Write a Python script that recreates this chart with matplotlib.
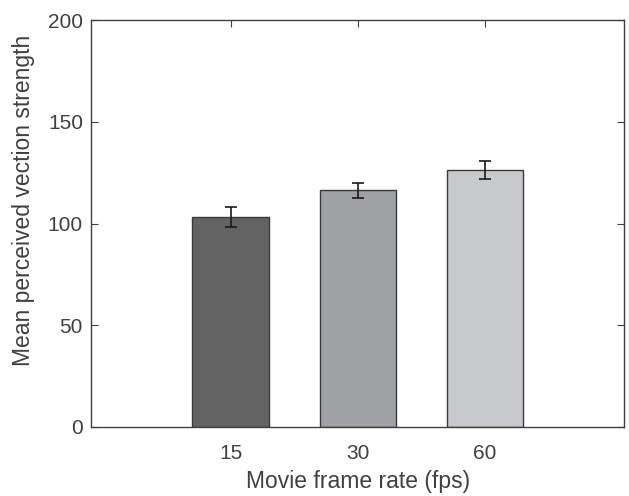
import matplotlib
matplotlib.use("Agg")
import matplotlib.pyplot as plt

categories = ["15", "30", "60"]
means = [103.4, 116.4, 126.3]
errors = [5.0, 3.7, 4.3]
colors = ["#636363", "#a0a1a4", "#c8c9cb"]

plt.rcParams['font.family'] = ['Liberation Sans', 'DejaVu Sans']
txt = "#404040"

fig = plt.figure(figsize=(6.29, 4.96), dpi=100)
ax = fig.add_axes([91.3/629, (496-427)/496, (624.3-91.3)/629, (427-20.3)/496])

x = [1, 2, 3]
ax.bar(x, means, width=0.6, color=colors, edgecolor="#3a3a3a", linewidth=1.0, zorder=2)
ax.errorbar(x, means, yerr=errors, fmt="none", ecolor="#1a1a1a", elinewidth=1.2,
            capsize=4.5, capthick=1.2, zorder=3)

ax.set_xlim(-0.095, 4.095)
ax.set_ylim(0, 200)
ax.set_xticks(x)
ax.set_xticklabels(categories)
ax.set_yticks([0, 50, 100, 150, 200])
ax.tick_params(direction="in", length=5, width=0.8, colors=txt, labelsize=15,
               top=True, right=True)
ax.tick_params(axis="x", pad=12)
ax.tick_params(axis="y", pad=6)
for s in ax.spines.values():
    s.set_color(txt)
    s.set_linewidth(1.0)
ax.set_xlabel("Movie frame rate (fps)", fontsize=16.5, color=txt, labelpad=5)
ax.set_ylabel("Mean perceived vection strength", fontsize=16.5, color=txt, labelpad=9)
ax.yaxis.label.set_y(0.558)

fig.savefig("out.png", dpi=100)
